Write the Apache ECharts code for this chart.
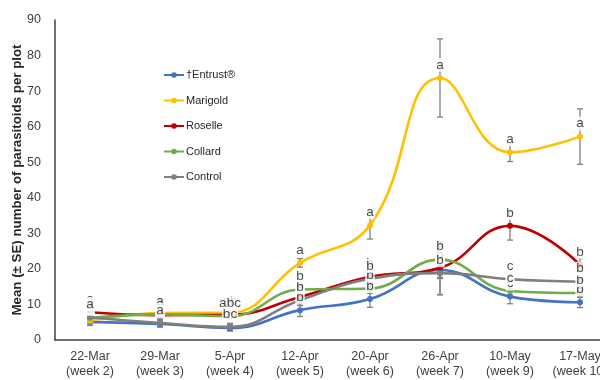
<!DOCTYPE html>
<html>
<head>
<meta charset="utf-8">
<script src="https://cdn.jsdelivr.net/npm/echarts@6/dist/echarts.min.js"></script>
<style>
  html, body { margin: 0; padding: 0; background: #fff; overflow: hidden; }
  #chart { width: 620px; height: 380px; }
</style>
</head>
<body>
<div id="chart"></div>
<script>
// Sampling dates and their trial weeks
const dates = ['22-Mar', '29-Mar', '5-Apr', '12-Apr', '20-Apr', '26-Apr', '10-May', '17-May'];
const weeks = ['(week 2)', '(week 3)', '(week 4)', '(week 5)', '(week 6)', '(week 7)', '(week 9)', '(week 10)'];

// Mean parasitoids per plot for each treatment
const entrust  = [5.1, 4.5, 3.4, 8.4, 11.5, 19.7, 12.2, 10.6];
const marigold = [5.4, 7.6, 7.7, 21.7, 32.3, 73.7, 52.8, 57.2];
const roselle  = [7.8, 7.0, 7.1, 12.1, 17.8, 20.3, 32.1, 21.1];
const collard  = [6.2, 7.2, 6.7, 14.2, 14.5, 22.6, 13.8, 13.2];
const control  = [6.4, 4.8, 3.7, 11.2, 17.2, 18.8, 17.1, 16.4];

// Standard errors
const entrustSE  = [1.0, 0.9, 0.9, 1.8, 2.3, 7.0, 2.0, 1.5];
const marigoldSE = [1.2, 0.8, 0.8, 1.2, 3.9, 11.0, 2.6, 7.8];
const roselleSE  = [0.8, 0.8, 0.8, 1.2, 1.6, 3.0, 4.0, 1.8];
const collardSE  = [0.8, 0.8, 0.8, 1.2, 1.4, 5.0, 1.2, 1.2];
const controlSE  = [1.0, 1.0, 1.0, 1.5, 1.5, 6.0, 1.2, 1.2];

// Mean-separation letters
const entrustLetters  = ['a', 'a', 'c', 'b', 'b', 'b', 'c', 'b'];
const marigoldLetters = ['a', 'a', 'a', 'a', 'a', 'a', 'a', 'a'];
const roselleLetters  = ['a', 'a', 'ab', 'b', 'b', 'b', 'b', 'b'];
const collardLetters  = ['a', 'a', 'abc', 'b', 'b', 'b', 'c', 'b'];
const controlLetters  = ['a', 'a', 'bc', 'b', 'b', 'b', 'c', 'b'];

// Y axis ticks
const yMin = 0, yMax = 90, yStep = 10;

const treatments = [
  { name: '\u2020Entrust\u00AE', values: entrust,  se: entrustSE,  letters: entrustLetters,  color: '#4472C4' },
  { name: 'Marigold',            values: marigold, se: marigoldSE, letters: marigoldLetters, color: '#FFC000' },
  { name: 'Roselle',             values: roselle,  se: roselleSE,  letters: roselleLetters,  color: '#C00000' },
  { name: 'Collard',             values: collard,  se: collardSE,  letters: collardLetters,  color: '#70AD47' },
  { name: 'Control',             values: control,  se: controlSE,  letters: controlLetters,  color: '#7F7F7F' }
];

const FONT = '"Liberation Sans", Arial, sans-serif';
const categories = dates.map((d, i) => d + '\n' + weeks[i]);

const series = [];

// Error bars, drawn beneath the lines
treatments.forEach((t) => {
  series.push({
    type: 'custom',
    name: t.name + ' SE',
    z: 1,
    silent: true,
    data: t.values.map((v, i) => [i, v - t.se[i], v + t.se[i]]),
    renderItem: function (params, api) {
      const lo = api.coord([api.value(0), api.value(1)]);
      const hi = api.coord([api.value(0), api.value(2)]);
      const half = 3;
      const style = { stroke: '#808080', lineWidth: 1.3 };
      return {
        type: 'group',
        children: [
          { type: 'line', shape: { x1: lo[0], y1: lo[1], x2: hi[0], y2: hi[1] }, style: style },
          { type: 'line', shape: { x1: lo[0] - half, y1: lo[1], x2: lo[0] + half, y2: lo[1] }, style: style },
          { type: 'line', shape: { x1: hi[0] - half, y1: hi[1], x2: hi[0] + half, y2: hi[1] }, style: style }
        ]
      };
    }
  });
});

// Smoothed treatment lines
treatments.forEach((t) => {
  series.push({
    type: 'line',
    name: t.name,
    z: 2,
    data: t.values,
    smooth: 0.45,
    symbol: 'circle',
    symbolSize: 6,
    showAllSymbol: true,
    lineStyle: { color: t.color, width: 2.6 },
    itemStyle: { color: t.color },
    emphasis: { disabled: true }
  });
});

// Letter labels with white boxes above each mean
treatments.forEach((t) => {
  series.push({
    type: 'scatter',
    name: t.name + ' letters',
    z: 5,
    silent: true,
    symbolSize: 6,
    itemStyle: { color: 'rgba(0,0,0,0)' },
    data: t.values.map((v, i) => ({ value: v, letter: t.letters[i] })),
    label: {
      show: true,
      position: 'top',
      distance: 3,
      formatter: (p) => p.data.letter,
      color: '#1a1a1a',
      fontFamily: FONT,
      fontSize: 13.5,
      backgroundColor: '#ffffff',
      padding: [0, 1, 0, 1],
      lineHeight: 14
    },
    emphasis: { disabled: true }
  });
});

const chart = echarts.init(document.getElementById('chart'), null, { renderer: 'canvas' });
chart.setOption({
  animation: false,
  backgroundColor: '#ffffff',
  grid: { left: 55, right: 5, top: 20, bottom: 40, containLabel: false, outerBoundsMode: 'none' },
  legend: {
    orient: 'vertical',
    left: 163,
    top: 68,
    padding: 0,
    itemWidth: 20,
    itemHeight: 7,
    itemGap: 11.5,
    data: treatments.map((t) => t.name),
    textStyle: { fontFamily: FONT, fontSize: 11, color: '#262626', padding: [0, 0, 0, -3], lineHeight: 14 }
  },
  xAxis: {
    type: 'category',
    data: categories,
    boundaryGap: true,
    axisLine: { lineStyle: { color: '#404040', width: 1.5 } },
    axisTick: { show: false },
    splitLine: { show: false },
    axisLabel: {
      color: '#404040',
      fontFamily: FONT,
      fontSize: 12.5,
      lineHeight: 15,
      margin: 9,
      interval: 0
    }
  },
  yAxis: {
    type: 'value',
    min: yMin,
    max: yMax,
    interval: yStep,
    name: 'Mean (\u00B1 SE) number of parasitoids per plot',
    nameLocation: 'middle',
    nameGap: 31,
    nameMoveOverlap: false,
    nameTextStyle: { fontFamily: FONT, fontSize: 13.3, fontWeight: 'bold', color: '#262626' },
    axisLine: { show: true, lineStyle: { color: '#404040', width: 1.5 } },
    axisTick: { show: false },
    splitLine: { show: false },
    axisLabel: { color: '#404040', fontFamily: FONT, fontSize: 12.5, margin: 14 }
  },
  series: series
});
</script>
</body>
</html>
